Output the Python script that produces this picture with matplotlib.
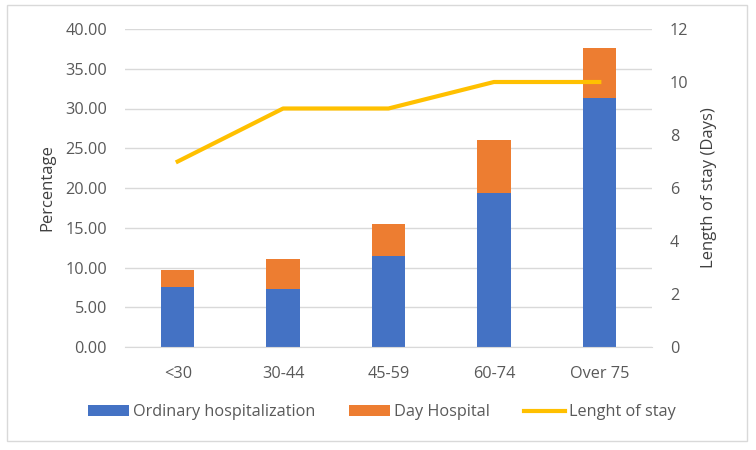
import matplotlib.pyplot as plt
from matplotlib.patches import Rectangle

categories = ["<30", "30-44", "45-59", "60-74", "Over 75"]
ordinary = [7.55, 7.25, 11.45, 19.35, 31.35]
day_hospital = [2.15, 3.8, 4.05, 6.75, 6.3]
length_of_stay = [7, 9, 9, 10, 10]

plt.rcParams['font.family'] = ['Open Sans', 'DejaVu Sans']

fig = plt.figure(figsize=(7.56, 4.5), dpi=100)
fig.patches.append(Rectangle((7 / 756, 1 - 441 / 450), 740 / 756, 436 / 450,
                             transform=fig.transFigure, fill=False,
                             edgecolor="#d9d9d9", linewidth=1))
ax = fig.add_axes([125 / 756, 1 - 347 / 450, 527 / 756, 318 / 450])
ax2 = ax.twinx()

x = range(len(categories))
b1 = ax.bar(x, ordinary, width=0.315, color="#4472c4", label="Ordinary hospitalization", zorder=2)
b2 = ax.bar(x, day_hospital, width=0.315, bottom=ordinary, color="#ed7d31",
            label="Day Hospital", zorder=2)
l1, = ax2.plot(x, length_of_stay, color="#ffc000", linewidth=3, label="Lenght of stay")

ax.set_ylim(0, 40)
ax.set_yticks([0, 5, 10, 15, 20, 25, 30, 35, 40])
ax.set_yticklabels(["%.2f" % v for v in ax.get_yticks()])
ax2.set_ylim(0, 12)
ax2.set_yticks(range(0, 13, 2))
ax.set_xlim(-0.5, 4.5)
ax.set_xticks(list(x))
ax.set_xticklabels(categories)

ax.grid(axis="y", color="#d9d9d9", linewidth=1, zorder=0)
for a in (ax, ax2):
  for s in a.spines.values():
    s.set_visible(False)
  a.tick_params(length=0, labelsize=11.7, labelcolor="#595959")
ax.spines["bottom"].set_visible(True)
ax.spines["bottom"].set_color("#d9d9d9")
ax.tick_params(axis="x", pad=14)
ax.tick_params(axis="y", pad=13)
ax2.tick_params(axis="y", pad=13)

ax.set_ylabel("Percentage", fontsize=12, color="#404040", labelpad=7)
ax2.set_ylabel("Length of stay (Days)", fontsize=12, color="#404040", labelpad=9)

fig.legend(handles=[b1, b2, l1], loc="center", bbox_to_anchor=(0.505, 0.084), ncol=3,
           frameon=False, fontsize=11.7, handlelength=2.5, handleheight=0.6,
           columnspacing=2.1, handletextpad=0.25, labelcolor="#595959")

plt.savefig("out.png", dpi=100)
